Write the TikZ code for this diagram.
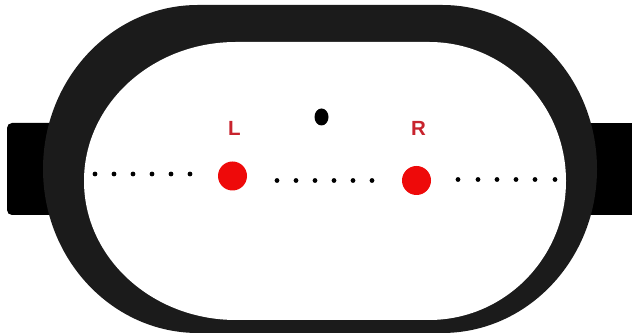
\documentclass[tikz,border=0pt]{standalone}
\usepackage{fontspec}
\newfontfamily\lblfont{Liberation Sans}
\definecolor{ringgray}{RGB}{27,27,27}
\definecolor{dotred}{RGB}{238,10,10}
\definecolor{lblred}{RGB}{200,35,45}
\begin{document}
\begin{tikzpicture}[x=1pt,y=1pt,
  smalldot/.style={fill=black,draw=none},
  reddot/.style={circle,fill=dotred,draw=none,inner sep=0pt,minimum size=29pt},
  lbl/.style={text=lblred,font=\lblfont\bfseries\fontsize{20.5}{24}\selectfont,inner sep=0pt,anchor=base}]
\useasboundingbox (0,0) rectangle (632,336);
% side tabs
\fill[black,rounded corners=5] (7,121) rectangle (70,213);
\fill[black] (588,121) rectangle (632,213);
% outer ring
\fill[ringgray] (198,331) -- (442,331)
  arc[start angle=90,end angle=-90,x radius=155,y radius=164]
  -- (198,3)
  arc[start angle=270,end angle=90,x radius=155,y radius=164] -- cycle;
% inner opening
\fill[white] (236,294) -- (429,294)
  arc[start angle=90,end angle=-90,x radius=137,y radius=139]
  -- (236,16)
  arc[start angle=270,end angle=90,x radius=152,y radius=139] -- cycle;
% dotted rows
\foreach \x in {95,114,133,152,171,190} \fill[smalldot] (\x,162) circle[radius=2.4];
\foreach \x in {277,296,315,334,353,372} \fill[smalldot] (\x,155.5) circle[radius=2.4];
\foreach \x in {458,478,497,516,535,555} \fill[smalldot] (\x,156.5) circle[radius=2.4];
% red points
\node[reddot] (pl) at (232.5,160) {};
\node[reddot] (pr) at (416.5,155.5) {};
% labels
\node[lbl] (ll) at (234.5,200.5) {L};
\node[lbl] (lr) at (418.5,200.5) {R};
% black point
\fill[black] (321.5,219) ellipse[x radius=7,y radius=8.5];
\end{tikzpicture}
\end{document}
